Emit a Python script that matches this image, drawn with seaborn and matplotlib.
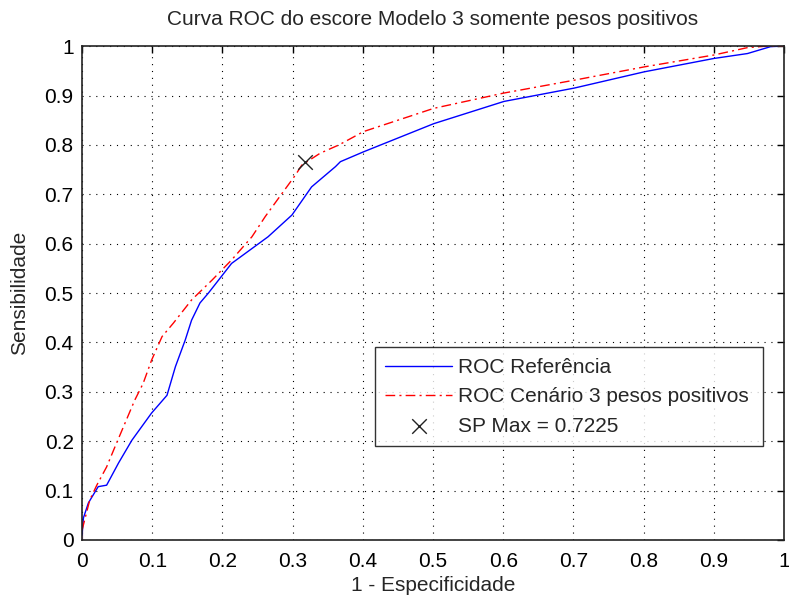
import numpy as np
import pandas as pd
import matplotlib
matplotlib.use("Agg")
import matplotlib.pyplot as plt
import seaborn as sns

# ROC curve of the reference score (1 - specificity, sensitivity)
ref_fpr = [0.0, 0.0, 0.002, 0.009, 0.023, 0.035, 0.052, 0.071, 0.099, 0.121,
           0.133, 0.147, 0.156, 0.168, 0.18, 0.213, 0.265, 0.299, 0.327, 0.361,
           0.368, 0.401, 0.501, 0.601, 0.701, 0.801, 0.9, 0.948, 0.981, 1.0]
ref_tpr = [0.0, 0.02, 0.045, 0.075, 0.108, 0.111, 0.156, 0.202, 0.257, 0.293,
           0.351, 0.405, 0.445, 0.48, 0.5, 0.56, 0.614, 0.658, 0.715, 0.756,
           0.766, 0.786, 0.843, 0.888, 0.915, 0.948, 0.975, 0.985, 0.999, 1.0]

# ROC curve of scenario 3 (positive weights only)
sc3_fpr = [0.0, 0.0, 0.011, 0.021, 0.035, 0.047, 0.061, 0.075, 0.087, 0.099,
           0.114, 0.13, 0.156, 0.185, 0.213, 0.242, 0.261, 0.285, 0.304, 0.313,
           0.339, 0.366, 0.401, 0.501, 0.601, 0.701, 0.801, 0.9, 0.948, 0.976, 1.0]
sc3_tpr = [0.0, 0.04, 0.081, 0.111, 0.148, 0.189, 0.236, 0.283, 0.317, 0.364,
           0.412, 0.439, 0.486, 0.526, 0.567, 0.614, 0.655, 0.702, 0.739, 0.759,
           0.783, 0.8, 0.827, 0.874, 0.905, 0.931, 0.958, 0.982, 0.997, 1.0, 1.0]

# Operating point of maximum SP index
sp_point_fpr = [0.318]
sp_point_tpr = [0.766]
sp_max = 0.7225

sns.set_style("white")
plt.rcParams["font.family"] = ["Liberation Sans", "DejaVu Sans"]

fig = plt.figure(figsize=(7.89, 5.99), dpi=100)
ax = fig.add_axes([0.104, 0.0985, 0.8897, 0.8245])

ref_df = pd.DataFrame({"fpr": ref_fpr, "tpr": ref_tpr})
sc3_df = pd.DataFrame({"fpr": sc3_fpr, "tpr": sc3_tpr})
sp_df = pd.DataFrame({"fpr": sp_point_fpr, "tpr": sp_point_tpr})

sns.lineplot(data=ref_df, x="fpr", y="tpr", sort=False, ax=ax, color="#0000ff",
             linewidth=1.0, label="ROC Referência")
sns.lineplot(data=sc3_df, x="fpr", y="tpr", sort=False, ax=ax, color="#ff0000",
             linewidth=1.0, dashes=False, label="ROC Cenário 3 pesos positivos")
ax.lines[-1].set_linestyle((0, (7, 3, 1.5, 3)))
sns.scatterplot(data=sp_df, x="fpr", y="tpr", ax=ax, marker="x", s=110,
                color="#222222", linewidth=1.0, label=f"SP Max = {sp_max}", zorder=5)

ax.set_xlim(0, 1)
ax.set_ylim(0, 1)
ticks = np.round(np.arange(0, 1.01, 0.1), 1)
ax.set_xticks(ticks)
ax.set_yticks(ticks)
ax.set_xticklabels(["0"] + [f"{t:g}" for t in ticks[1:-1]] + ["1"])
ax.set_yticklabels(["0"] + [f"{t:g}" for t in ticks[1:-1]] + ["1"])
ax.tick_params(direction="in", length=5, width=1, top=True, right=True,
               labelsize=15, colors="black")
ax.tick_params(axis="x", pad=9)
ax.tick_params(axis="y", pad=6)
ax.grid(True, color="black", linestyle=(0, (1, 5.2)), linewidth=0.8)
for sp in ax.spines.values():
    sp.set_visible(True)
    sp.set_color("#222222")
    sp.set_linewidth(1.2)

ax.set_xlabel("1 - Especificidade", fontsize=15, labelpad=3)
ax.set_ylabel("Sensibilidade", fontsize=15, labelpad=11)
ax.set_title("Curva ROC do escore Modelo 3 somente pesos positivos", fontsize=15, pad=15)

leg = ax.legend(loc="lower left", bbox_to_anchor=(0.417, 0.19, 0.553, 0.201),
                mode="expand", fontsize=15, frameon=True, fancybox=False,
                edgecolor="black", handlelength=3.2, handletextpad=0.3,
                borderpad=0.5, labelspacing=0.5, borderaxespad=0)
leg.get_frame().set_linewidth(1.0)

fig.savefig("out.png", dpi=100, facecolor="white")
